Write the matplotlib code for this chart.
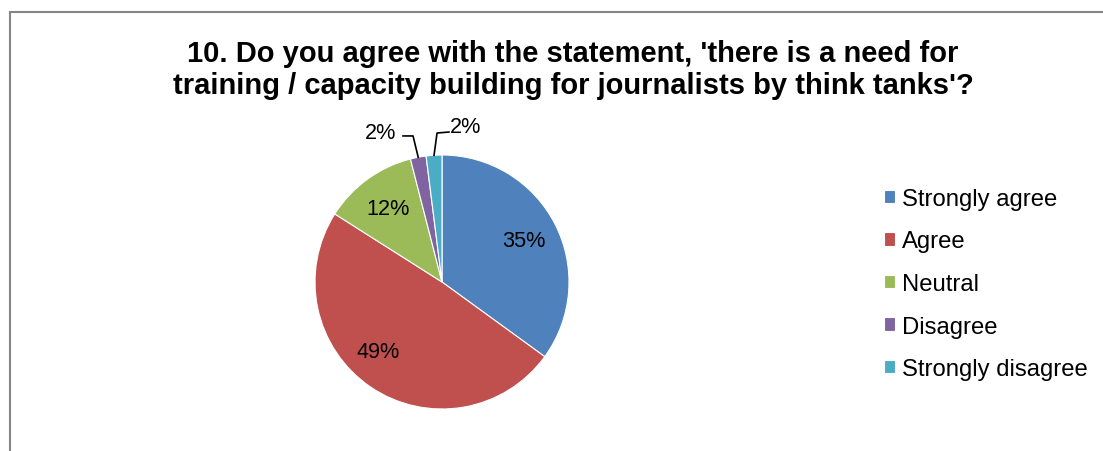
import matplotlib.pyplot as plt
import numpy as np
from matplotlib.patches import Rectangle

plt.rcParams["font.family"] = ["Liberation Sans", "DejaVu Sans"]

TITLE = ("10. Do you agree with the statement, 'there is a need for\n"
         "training / capacity building for journalists by think tanks'?")
CATEGORIES = ["Strongly agree", "Agree", "Neutral", "Disagree", "Strongly disagree"]
SHARES = [35, 49, 12, 2, 2]
COLORS = ["#4F81BD", "#C0504D", "#9BBB59", "#8064A2", "#4BACC6"]

W, H, DPI = 1103, 452, 100
CX, CY, R = 442, 283, 127  # pie centre and radius in pixels


def main() -> None:
    fig = plt.figure(figsize=(W / DPI, H / DPI), dpi=DPI)

    # chart frame, runs off the right and bottom edges
    fig.patches.append(Rectangle((10 / W, -0.1), 1.2, 1.1 - 13.5 / H,
                                 transform=fig.transFigure, fill=False,
                                 edgecolor="#868686", linewidth=1.5))

    fig.text(573 / W, 1 - 70 / H, TITLE, ha="center", va="center",
             fontsize=21, fontweight="bold", linespacing=1.15)

    x0, x1, y0, y1 = -1.6, 1.6, -1.3, 1.4
    ax = fig.add_axes([(CX + x0 * R) / W, (H - CY + y0 * R) / H,
                       (x1 - x0) * R / W, (y1 - y0) * R / H])
    wedges, _, autotexts = ax.pie(
        SHARES, colors=COLORS, startangle=90, counterclock=False,
        autopct="%d%%", pctdistance=0.72,
        wedgeprops=dict(edgecolor="white", linewidth=0.8),
        textprops=dict(fontsize=15.6, color="black"))
    ax.set_xlim(x0, x1)
    ax.set_ylim(y0, y1)
    ax.set_aspect("auto")

    # the big slice label sits a bit lower than the slice middle
    autotexts[1].set_position((-0.50, -0.545))

    # small slices get their labels outside, with elbow leader lines
    outside = {3: ((-0.48, 1.18), (-0.228, 1.15), (-0.307, 1.15)),
               4: ((0.189, 1.225), (-0.039, 1.173), (0.055, 1.181))}
    for i, (text_xy, elbow, end) in outside.items():
        w = wedges[i]
        mid = np.deg2rad((w.theta1 + w.theta2) / 2)
        start = (np.cos(mid), np.sin(mid))
        ax.plot([start[0], elbow[0], end[0]], [start[1], elbow[1], end[1]],
                color="black", linewidth=1.2, clip_on=False)
        autotexts[i].set_position(text_xy)

    fig.legend(wedges, CATEGORIES, loc="center left",
               bbox_to_anchor=(884 / W, 1 - 285 / H), frameon=False,
               fontsize=17.2, handlelength=0.47, handleheight=0.47,
               handletextpad=0.3, labelspacing=0.86, borderpad=0,
               borderaxespad=0)

    fig.savefig("out.png", dpi=DPI)
    plt.close(fig)


if __name__ == "__main__":
    main()
